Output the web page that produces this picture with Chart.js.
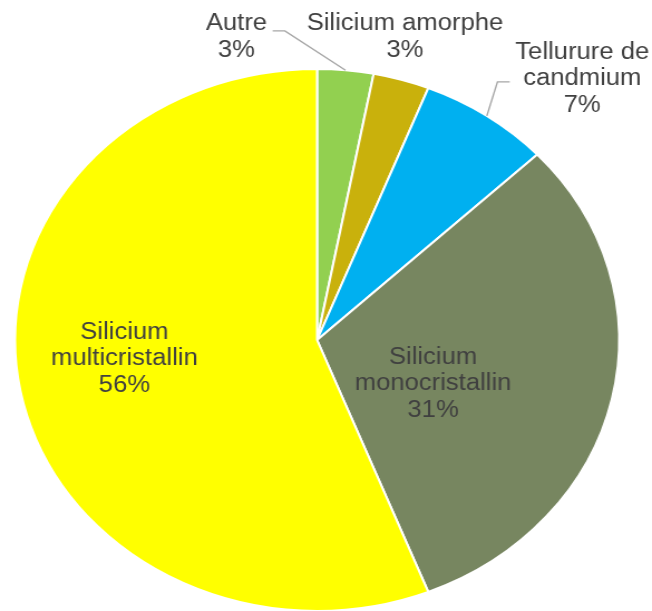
<!DOCTYPE html>
<html>
<head>
<meta charset="utf-8">
<script src="https://cdn.jsdelivr.net/npm/chart.js@4.4.1/dist/chart.umd.min.js"></script>
<style>
  html, body { margin: 0; padding: 0; background: #fff; overflow: hidden; }
  /* the pie is drawn a little wider than tall */
  #wrap { width: 585px; height: 611px; transform: scaleX(1.1145); transform-origin: 0 0; }
</style>
</head>
<body>
<div id="wrap"><canvas id="pie" width="585" height="611"></canvas></div>
<script>
const categories = ['Autre', 'Silicium amorphe', 'Tellurure de candmium', 'Silicium monocristallin', 'Silicium multicristallin'];
const shares = [3, 3, 7, 31, 56];
const sliceColors = ['#92d050', '#c9b10c', '#00b0f0', '#778660', '#ffff00'];

// label block centres, in pie radii from the centre; leader = side the line leaves from
const labelSpots = [
  { fx: -0.267, fy: -1.124, wrap: 200, leader: 'right', dy: -4.5 },
  { fx: 0.291, fy: -1.124, wrap: 200 },
  { fx: 0.878, fy: -0.971, wrap: 140, leader: 'left', dy: 5 },
  { fx: 0.384, fy: 0.155, wrap: 160 },
  { fx: -0.638, fy: 0.063, wrap: 160 }
];

function wrapWords(ctx, text, maxWidth) {
  const words = text.split(' ');
  const lines = [];
  let line = '';
  words.forEach(w => {
    const test = line ? line + ' ' + w : w;
    if (line && ctx.measureText(test).width > maxWidth) {
      lines.push(line);
      line = w;
    } else {
      line = test;
    }
  });
  if (line) lines.push(line);
  return lines;
}

const sliceLabels = {
  id: 'sliceLabels',
  afterDatasetsDraw(chart) {
    const ctx = chart.ctx;
    const arcs = chart.getDatasetMeta(0).data;
    const values = chart.data.datasets[0].data;
    const total = values.reduce((a, b) => a + b, 0);
    const lineH = 26.5;
    ctx.save();
    ctx.font = '23px "Liberation Sans", Arial, sans-serif';
    ctx.fillStyle = '#404040';
    ctx.textAlign = 'center';
    ctx.textBaseline = 'alphabetic';
    arcs.forEach((arc, i) => {
      const spot = labelSpots[i];
      const { x, y, outerRadius, startAngle, endAngle } =
        arc.getProps(['x', 'y', 'outerRadius', 'startAngle', 'endAngle'], true);
      const lines = wrapWords(ctx, chart.data.labels[i], spot.wrap);
      lines.push(Math.round(values[i] / total * 100) + '%');
      const cx = x + spot.fx * outerRadius;
      const cy = y + spot.fy * outerRadius;
      lines.forEach((t, j) => {
        const mid = cy + (j - (lines.length - 1) / 2) * lineH;
        ctx.fillText(t, cx, mid + 8.2);
      });
      if (spot.leader) {
        const w = Math.max(...lines.map(t => ctx.measureText(t).width));
        const dir = spot.leader === 'right' ? 1 : -1;
        const sx = cx + dir * (w / 2 + 5);
        const ly = cy + spot.dy;
        const a = (startAngle + endAngle) / 2;
        ctx.beginPath();
        ctx.moveTo(sx, ly);
        ctx.lineTo(sx + dir * 11, ly);
        ctx.lineTo(x + Math.cos(a) * outerRadius, y + Math.sin(a) * outerRadius);
        ctx.strokeStyle = '#a6a6a6';
        ctx.lineWidth = 1.4;
        ctx.stroke();
      }
    });
    ctx.restore();
  }
};

new Chart(document.getElementById('pie'), {
  type: 'pie',
  data: {
    labels: categories,
    datasets: [{
      data: shares,
      backgroundColor: sliceColors,
      borderColor: '#ffffff',
      borderWidth: 2
    }]
  },
  options: {
    responsive: false,
    animation: false,
    radius: 271,
    layout: { padding: { left: 13.5, right: 29.5, top: 69, bottom: 0 } },
    plugins: {
      legend: { display: false },
      tooltip: { enabled: false }
    }
  },
  plugins: [sliceLabels]
});
</script>
</body>
</html>
